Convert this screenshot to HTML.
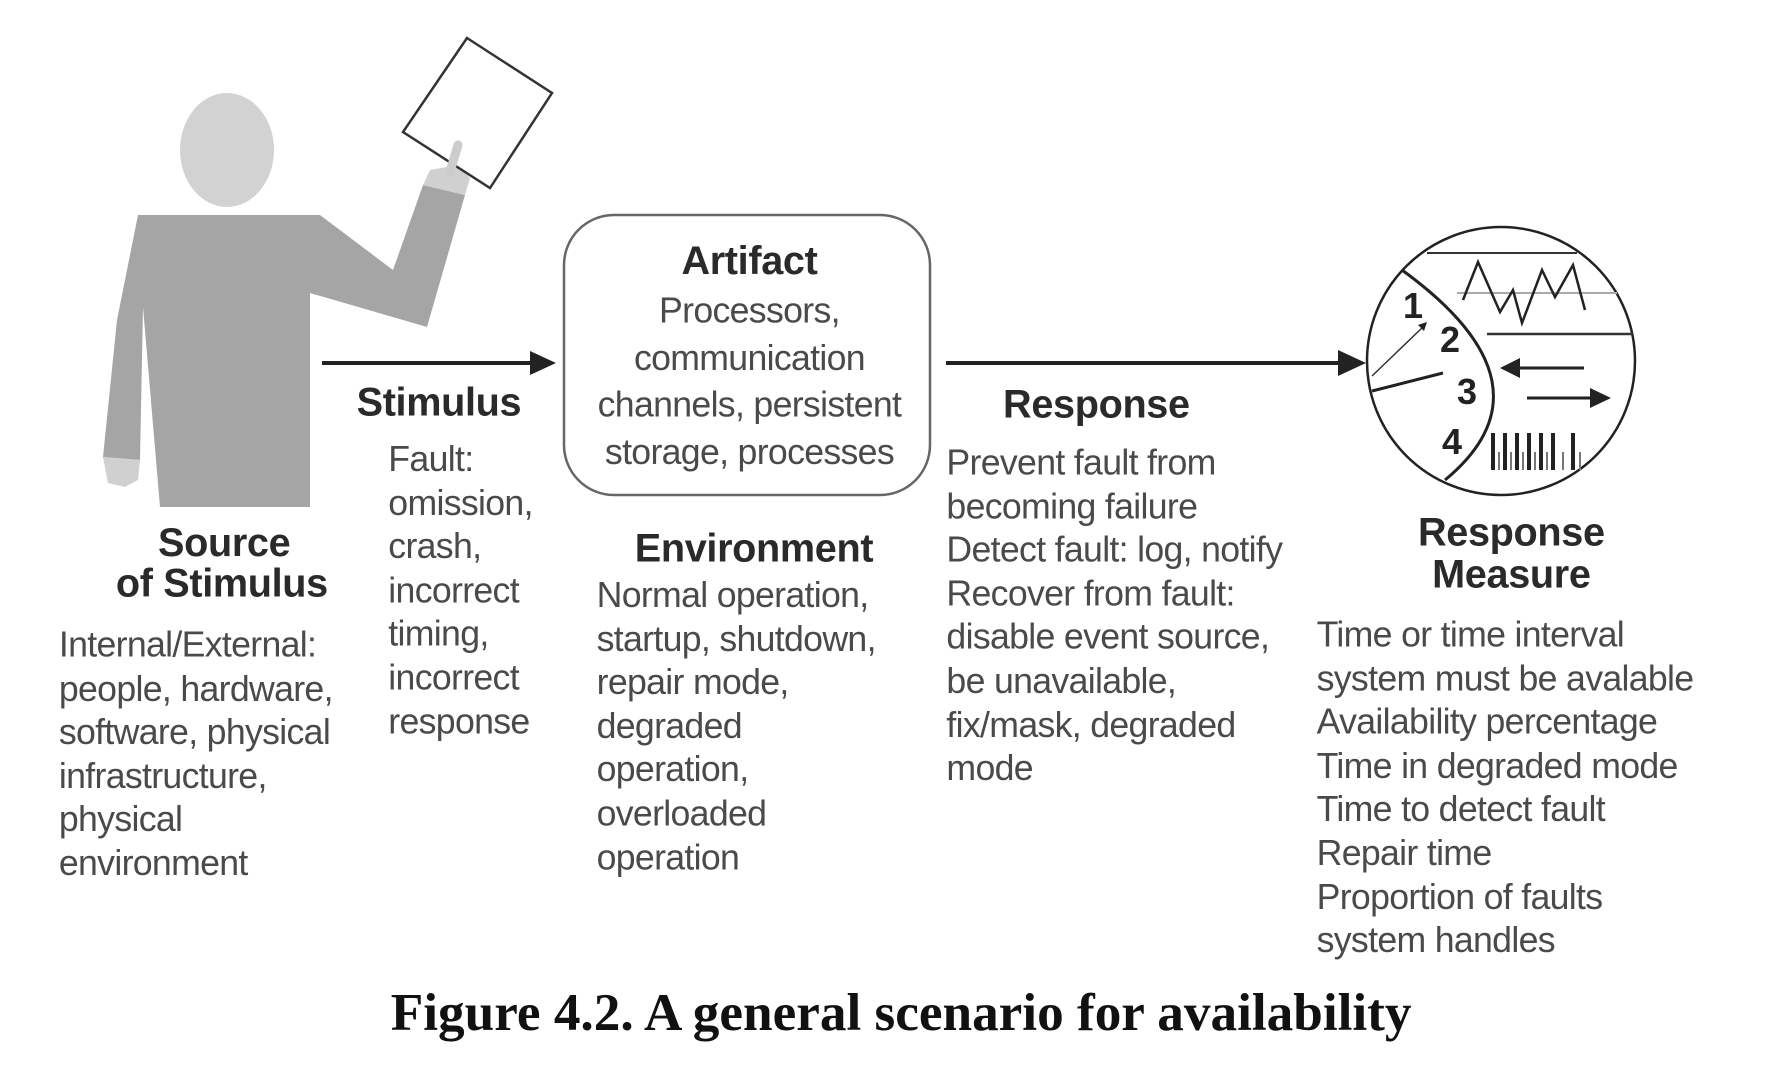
<!DOCTYPE html>
<html><head><meta charset="utf-8"><style>
html,body{margin:0;padding:0;background:#fff;}
body{width:1766px;height:1066px;position:relative;overflow:hidden;}
svg{position:absolute;left:0;top:0;}
#t{position:absolute;left:0;top:0;width:1560px;height:942px;transform:scale(1.1321);transform-origin:0 0;font-family:"Liberation Sans",sans-serif;}
.h{position:absolute;font-weight:bold;font-size:35px;color:#2a2a2a;line-height:36px;white-space:nowrap;letter-spacing:-0.3px;}
.b{position:absolute;font-size:31.5px;color:#4a4a4a;line-height:38.6px;white-space:nowrap;letter-spacing:-0.6px;}
.c{text-align:center;}
.cap{position:absolute;left:0;width:1592px;text-align:center;top:868px;font-family:"Liberation Serif",serif;font-weight:bold;font-size:47px;color:#111;white-space:nowrap;}
</style></head><body>
<svg width="1766" height="1066" viewBox="0 0 1766 1066">
<ellipse cx="227" cy="150" rx="47" ry="57" fill="#d2d2d2"/>
<polygon points="138,215 320,215 393,270 423,185 465,195 427,327 310,293 310,507 160,507 143,307 140,460 103,457 117,320" fill="#a5a5a5"/>
<polygon points="103,457 140,460 138,480 125,487 108,483" fill="#d0d0d0"/>
<polygon points="423,185 465,195 470,178 458,165 430,170" fill="#d0d0d0"/>
<polygon points="467,38 552,93 490,188 403,132" fill="#fff" stroke="#333" stroke-width="2.5"/>
<line x1="450" y1="172" x2="458" y2="145" stroke="#ccc" stroke-width="9" stroke-linecap="round"/>
<line x1="322" y1="363" x2="540" y2="363" stroke="#222" stroke-width="4"/>
<polygon points="530,351 556,363 530,375" fill="#222"/>
<line x1="946" y1="363" x2="1345" y2="363" stroke="#222" stroke-width="4"/>
<polygon points="1338,350 1366,363 1338,376" fill="#222"/>
<rect x="564" y="215" width="366" height="280" rx="50" ry="50" fill="none" stroke="#666" stroke-width="2.5"/>
<circle cx="1501" cy="361" r="134" fill="#fff" stroke="#222" stroke-width="2.5"/>
<path d="M1402,270 Q1560,385 1445,480" fill="none" stroke="#222" stroke-width="3"/>
<line x1="1427" y1="253" x2="1577" y2="253" stroke="#333" stroke-width="2"/>
<line x1="1457" y1="293" x2="1617" y2="293" stroke="#aaa" stroke-width="2"/>
<line x1="1487" y1="334" x2="1633" y2="334" stroke="#333" stroke-width="2.5"/>
<polyline points="1463,300 1478,262 1500,312 1513,290 1522,323 1542,270 1555,297 1573,265 1585,310" fill="none" stroke="#222" stroke-width="2.5"/>
<g font-family="Liberation Sans,sans-serif" font-weight="bold" font-size="36" fill="#222" text-anchor="middle">
<text x="1413" y="318">1</text><text x="1450" y="352">2</text><text x="1467" y="404">3</text><text x="1452" y="454">4</text></g>
<line x1="1372" y1="376" x2="1424" y2="326" stroke="#333" stroke-width="1.5"/>
<polygon points="1427,322 1418,325 1424,331" fill="#222"/>
<line x1="1372" y1="391" x2="1443" y2="373" stroke="#222" stroke-width="3"/>
<line x1="1515" y1="368" x2="1584" y2="368" stroke="#222" stroke-width="3"/>
<polygon points="1500,368 1520,358 1520,378" fill="#222"/>
<line x1="1527" y1="398" x2="1595" y2="398" stroke="#222" stroke-width="3"/>
<polygon points="1611,398 1590,388 1590,408" fill="#222"/>
<g stroke="#222" stroke-width="4">
<line x1="1493" y1="433" x2="1493" y2="470"/><line x1="1505" y1="433" x2="1505" y2="470"/><line x1="1517" y1="433" x2="1517" y2="470"/><line x1="1529" y1="433" x2="1529" y2="470"/><line x1="1541" y1="433" x2="1541" y2="470"/><line x1="1553" y1="433" x2="1553" y2="470"/><line x1="1573" y1="433" x2="1573" y2="470"/></g>
<g stroke="#777" stroke-width="2">
<line x1="1499" y1="452" x2="1499" y2="470"/><line x1="1511" y1="452" x2="1511" y2="470"/><line x1="1523" y1="452" x2="1523" y2="470"/><line x1="1535" y1="452" x2="1535" y2="470"/><line x1="1547" y1="452" x2="1547" y2="470"/><line x1="1563" y1="452" x2="1563" y2="470"/><line x1="1580" y1="452" x2="1580" y2="470"/></g>
</svg>
<div id="t">
<div class="h c" style="left:98px;width:200px;top:462px">Source</div>
<div class="h c" style="left:96px;width:200px;top:498px">of Stimulus</div>
<div class="b" style="left:52px;top:550px">Internal/External:<br>people, hardware,<br>software, physical<br>infrastructure,<br>physical<br>environment</div>
<div class="h" style="left:315px;top:338px">Stimulus</div>
<div class="b" style="left:343px;top:386px">Fault:<br>omission,<br>crash,<br>incorrect<br>timing,<br>incorrect<br>response</div>
<div class="h c" style="left:562px;width:200px;top:213px">Artifact</div>
<div class="b c" style="left:462px;width:400px;top:254px;line-height:41.5px">Processors,<br>communication<br>channels, persistent<br>storage, processes</div>
<div class="h c" style="left:516px;width:300px;top:467px">Environment</div>
<div class="b" style="left:527px;top:506px">Normal operation,<br>startup, shutdown,<br>repair mode,<br>degraded<br>operation,<br>overloaded<br>operation</div>
<div class="h" style="left:886px;top:340px">Response</div>
<div class="b" style="left:836px;top:389px">Prevent fault from<br>becoming failure<br>Detect fault: log, notify<br>Recover from fault:<br>disable event source,<br>be unavailable,<br>fix/mask, degraded<br>mode</div>
<div class="h c" style="left:1185px;width:300px;top:453px">Response</div>
<div class="h c" style="left:1185px;width:300px;top:490px">Measure</div>
<div class="b" style="left:1163px;top:541px">Time or time interval<br>system must be avalable<br>Availability percentage<br>Time in degraded mode<br>Time to detect fault<br>Repair time<br>Proportion of faults<br>system handles</div>
<div class="cap">Figure 4.2. A general scenario for availability</div>
</div>
</body></html>
